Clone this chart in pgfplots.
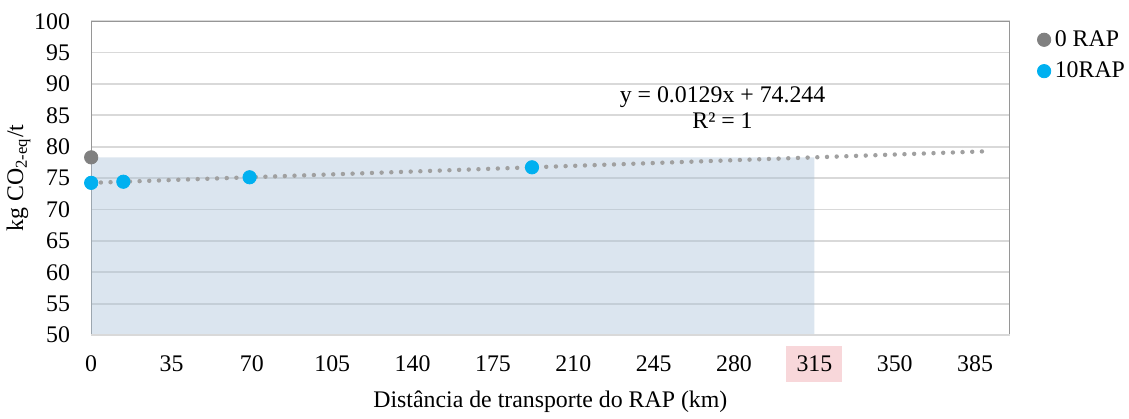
\documentclass[border=0pt]{standalone}
\usepackage{pgfplots}
\pgfplotsset{compat=1.18}
\usepackage{fontspec}
\setmainfont{Liberation Serif}
\definecolor{gridc}{RGB}{217,217,217}
\definecolor{framec}{RGB}{150,150,150}
\definecolor{shadec}{RGB}{166,191,214}
\definecolor{trendc}{RGB}{160,160,160}
\definecolor{grayp}{RGB}{128,128,128}
\definecolor{bluep}{RGB}{0,176,240}
\definecolor{pinkc}{RGB}{248,215,218}
\begin{document}
\begin{tikzpicture}
\begin{axis}[
  scale only axis,
  width=455pt, height=155.5pt,
  xmin=0, xmax=400, ymin=50, ymax=100,
  xtick={0,35,70,105,140,175,210,245,280,315,350,385},
  xticklabels={0,35,70,105,140,175,210,245,280,{\setlength{\fboxsep}{5pt}\colorbox{pinkc}{315}},350,385},
  ytick={50,55,...,100},
  major tick length=0pt,
  ymajorgrids, grid style={gridc, line width=0.9pt},
  axis line style={framec, line width=0.6pt},
  xticklabel style={anchor=base, yshift=-18pt},
  yticklabel style={xshift=-7pt},
  /pgf/number format/assume math mode=true,
  tick label style={font=\fontsize{11.8}{13}\selectfont},
  xlabel={Distância de transporte do RAP (km)},
  ylabel={kg CO\textsubscript{2-eq}/t},
  xlabel style={font=\fontsize{11.8}{13}\selectfont, yshift=2.5pt},
  ylabel style={font=\fontsize{11.8}{13}\selectfont, yshift=-5pt},
  legend style={draw=none, fill=none, at={(1.03,0.985)}, anchor=north west,
    font=\fontsize{11.8}{13}\selectfont, row sep=2.2pt, inner sep=0pt},
  legend image code/.code={\draw[#1] plot coordinates {(0.14cm,0cm)};},
  legend cell align=left,
  clip=false,
]
\addplot[draw=none, fill=shadec, fill opacity=0.4, forget plot]
  coordinates {(0,50) (315,50) (315,78.31) (0,78.31)} \closedcycle;
\addplot[only marks, mark=*, mark size=3.3pt, color=grayp]
  coordinates {(0,78.31)};
\addlegendentry{0 RAP}
\addplot[only marks, mark=*, mark size=3.3pt, color=bluep]
  coordinates {(0,74.244) (14,74.425) (69,75.134) (192,76.721)};
\addlegendentry{10RAP}
\addplot[trendc, line width=2.2pt, line cap=round, dash pattern=on 0pt off 4.8pt, forget plot]
  coordinates {(0,74.244) (390,79.275)};
\draw[gridc, line width=0.9pt] (rel axis cs:0,0) -- (rel axis cs:1,0);
\coordinate (tp) at (rel axis cs:0,1);
\node[align=center, font=\fontsize{11.8}{13}\selectfont, inner sep=0pt] at (axis cs:275,86.2) {y = 0.0129x + 74.244\\R² = 1};
\end{axis}
\path (tp) ++(0,10.5pt) coordinate (tq);
\path (tq) -- (tp);
\end{tikzpicture}
\end{document}
